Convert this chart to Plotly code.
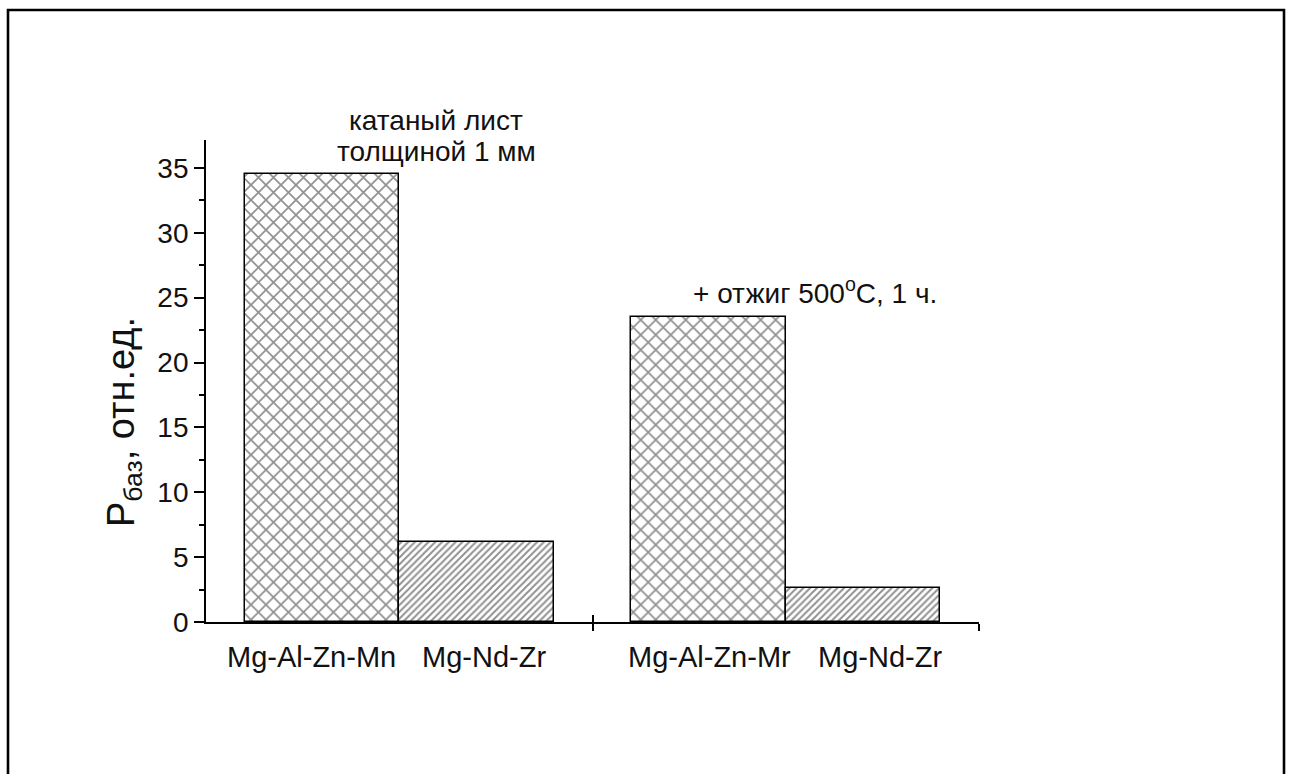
import plotly.graph_objects as go

# Basal-plane texture parameter for two alloys, as rolled and after annealing
alloys = ["Mg-Al-Zn-Mr", "Mg-Nd-Zr"]
first_label = "Mg-Al-Zn-Mn"
rolled = [34.5, 6.2]
annealed = [23.5, 2.6]
caption_rolled = ["катаный лист", "толщиной 1 мм"]
caption_annealed = "+ отжиг 500<sup>o</sup>C, 1 ч."
y_ticks = [0, 5, 10, 15, 20, 25, 30, 35]

W, H = 1291, 774
L, R, T, B = 206, 312, 140, 152
pw, ph = W - L - R, H - T - B

def px(x):
    return (x - L) / pw

def py(y):
    return (H - B - y) / ph

FONT = "Arial, Liberation Sans, sans-serif"
TXT = "#111"
bar_w = 0.4
values = rolled + annealed
xpos = [0.3, 0.7, 1.3, 1.7]
pat_shape = ["x", "/", "x", "/"]
pat_size = [10.6, 4.8, 10.6, 4.8]
pat_solid = [0.3, 0.4, 0.3, 0.4]

fig = go.Figure()
for x, v, s, sz, so in zip(xpos, values, pat_shape, pat_size, pat_solid):
    fig.add_trace(go.Bar(
        x=[x], y=[v], width=bar_w,
        marker=dict(color="white",
                    line=dict(color="black", width=1.5),
                    pattern=dict(shape=s, size=sz, solidity=so,
                                 fgcolor="#222", bgcolor="white")),
        showlegend=False, hoverinfo="skip"))

# invisible trace on the overlay axis so its inward ticks are drawn
fig.add_trace(go.Scatter(x=[0, 2], y=[0, 0], xaxis="x2", mode="lines",
                         line=dict(width=0), showlegend=False, hoverinfo="skip"))

fig.update_layout(
    width=W, height=H,
    margin=dict(l=L, r=R, t=T, b=B),
    paper_bgcolor="white", plot_bgcolor="white",
    font=dict(family=FONT, color=TXT, size=28),
    bargap=0,
    xaxis=dict(range=[0, 2], tickvals=[1, 2], ticks="outside", ticklen=7,
               tickwidth=1.8, tickcolor="black", showticklabels=False,
               showline=True, linecolor="black", linewidth=1.8,
               showgrid=False, zeroline=False),
    xaxis2=dict(range=[0, 2], overlaying="x", anchor="y", side="bottom",
                tickvals=[1, 2], ticks="inside", ticklen=7, tickwidth=1.8,
                tickcolor="black", showticklabels=False, showline=False,
                showgrid=False, zeroline=False),
    yaxis=dict(range=[0, 37.15], tickvals=y_ticks, ticks="outside", ticklen=10,
               tickwidth=1.8, tickcolor="black", showline=True,
               linecolor="black", linewidth=1.8, showgrid=False, zeroline=False,
               tickfont=dict(size=28, color=TXT),
               minor=dict(ticks="outside", ticklen=5, tickwidth=1.8,
                          tickcolor="black", tick0=2.5, dtick=5, showgrid=False)),
)

# category labels under the bars
labels = [first_label, alloys[1], alloys[0], alloys[1]]
shifts = [-10, 7, 1, 17]
for x, lab, sh in zip(xpos, labels, shifts):
    fig.add_annotation(x=x, y=py(657), xref="x", yref="paper", text=lab,
                       showarrow=False, xshift=sh, xanchor="center",
                       yanchor="middle", font=dict(size=29, color=TXT))

# group captions
for line, yc in zip(caption_rolled, [121, 151]):
    fig.add_annotation(x=px(436), y=py(yc), xref="paper", yref="paper",
                       text=line, showarrow=False, xanchor="center",
                       yanchor="middle", font=dict(size=28, color=TXT))
fig.add_annotation(x=px(815), y=py(291), xref="paper", yref="paper",
                   text=caption_annealed, showarrow=False, xanchor="center",
                   yanchor="middle", font=dict(size=28, color=TXT))

# axis title
fig.add_annotation(x=px(124), y=py(422), xref="paper", yref="paper",
                   text="P<sub>баз</sub>, отн.ед.", textangle=-90,
                   xanchor="center", yanchor="middle",
                   showarrow=False, font=dict(size=38, color=TXT))

# outer frame
fig.add_shape(type="rect", xref="paper", yref="paper",
              x0=px(8), x1=px(1284), y0=py(800), y1=py(10),
              line=dict(color="black", width=2.6), fillcolor="rgba(0,0,0,0)",
              layer="above")

fig.write_html("out.html")
